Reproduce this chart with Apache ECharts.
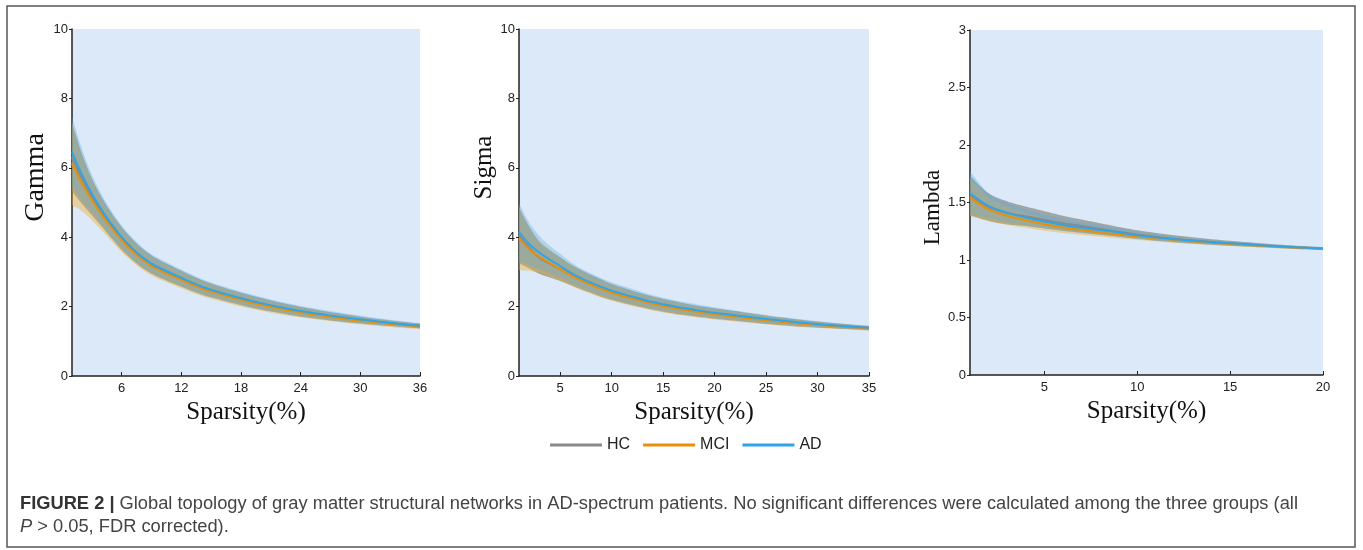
<!DOCTYPE html>
<html>
<head>
<meta charset="utf-8">
<script src="https://cdn.jsdelivr.net/npm/echarts@6/dist/echarts.min.js"></script>
<style>
html,body{margin:0;padding:0;background:#fff;}
#c{width:1363px;height:550px;}
</style>
</head>
<body>
<div id="c"></div>
<script>
// ---------- Data ----------
const groups = ['HC', 'MCI', 'AD'];

// Panel 1: Gamma
const gammaX = [1,2,3,4,5,6,7,8,9,10,12,14,16,18,20,22,24,27,30,33,36];
const gammaHC  = [6.30,5.68,5.16,4.72,4.32,3.96,3.66,3.41,3.21,3.06,2.80,2.56,2.38,2.22,2.08,1.96,1.85,1.72,1.61,1.52,1.44];
const gammaMCI = [6.13,5.55,5.07,4.64,4.26,3.91,3.62,3.37,3.17,3.02,2.77,2.53,2.35,2.19,2.05,1.93,1.83,1.70,1.59,1.50,1.42];
const gammaAD  = [6.45,5.80,5.25,4.78,4.36,4.00,3.70,3.44,3.24,3.09,2.83,2.58,2.40,2.24,2.10,1.98,1.87,1.74,1.63,1.53,1.45];
const gammaHCsd  = [0.98,0.72,0.53,0.42,0.36,0.33,0.30,0.28,0.26,0.25,0.23,0.21,0.19,0.18,0.17,0.15,0.14,0.12,0.10,0.08,0.07];
const gammaMCIsd = [1.20,0.80,0.58,0.45,0.38,0.34,0.31,0.29,0.27,0.26,0.24,0.22,0.20,0.19,0.17,0.16,0.14,0.12,0.10,0.09,0.07];
const gammaADsd  = [1.02,0.75,0.55,0.44,0.38,0.34,0.31,0.29,0.27,0.26,0.24,0.22,0.20,0.19,0.18,0.16,0.15,0.13,0.11,0.09,0.07];
const gammaXTicks = [6,12,18,24,30,36];

// Panel 2: Sigma
const sigmaX = [1,2,3,4,5,6,7,8,9,10,12,14,16,18,20,22,25,28,31,35];
const sigmaHC  = [4.05,3.70,3.40,3.23,3.08,2.92,2.78,2.65,2.53,2.42,2.25,2.10,1.98,1.88,1.80,1.73,1.62,1.53,1.46,1.38];
const sigmaMCI = [3.97,3.65,3.43,3.25,3.08,2.91,2.76,2.63,2.51,2.40,2.23,2.08,1.96,1.86,1.78,1.71,1.61,1.52,1.45,1.37];
const sigmaAD  = [4.15,3.80,3.55,3.35,3.17,2.98,2.82,2.69,2.57,2.46,2.29,2.13,2.01,1.91,1.82,1.75,1.64,1.55,1.47,1.39];
const sigmaHCsd  = [0.80,0.60,0.46,0.39,0.34,0.30,0.28,0.26,0.25,0.23,0.21,0.19,0.18,0.16,0.15,0.14,0.12,0.10,0.08,0.06];
const sigmaMCIsd = [0.92,0.62,0.46,0.39,0.34,0.30,0.28,0.26,0.25,0.23,0.21,0.19,0.18,0.16,0.15,0.14,0.12,0.10,0.08,0.06];
const sigmaADsd  = [0.83,0.62,0.48,0.40,0.35,0.31,0.28,0.27,0.25,0.24,0.22,0.20,0.18,0.17,0.16,0.14,0.12,0.10,0.08,0.06];
const sigmaXTicks = [5,10,15,20,25,30,35];

// Panel 3: Lambda
const lambdaX = [1,2,3,4,5,6,7,8,9,10,12,14,16,18,20];
const lambdaHC  = [1.56,1.46,1.41,1.38,1.35,1.32,1.295,1.27,1.245,1.222,1.185,1.157,1.135,1.115,1.099];
const lambdaMCI = [1.545,1.44,1.385,1.345,1.31,1.283,1.26,1.24,1.222,1.205,1.175,1.15,1.13,1.112,1.097];
const lambdaAD  = [1.58,1.47,1.41,1.37,1.335,1.305,1.28,1.26,1.24,1.215,1.18,1.155,1.135,1.115,1.10];
const lambdaHCsd  = [0.17,0.12,0.10,0.085,0.075,0.065,0.057,0.05,0.043,0.037,0.03,0.024,0.019,0.015,0.012];
const lambdaMCIsd = [0.165,0.10,0.08,0.065,0.055,0.048,0.042,0.037,0.033,0.03,0.025,0.02,0.016,0.013,0.01];
const lambdaADsd  = [0.19,0.11,0.085,0.07,0.06,0.052,0.046,0.04,0.036,0.032,0.026,0.02,0.016,0.013,0.01];
const lambdaXTicks = [5,10,15,20];

// ---------- Styles ----------
const lineColors = {HC:'#8a8a8a', MCI:'#e88f0c', AD:'#31a4e6'};
const bandColors = {HC:'rgba(115,118,105,0.58)', MCI:'rgba(235,175,50,0.42)', AD:'rgba(90,175,230,0.36)'};
const plotBg = '#dce9f8';
const serif = 'Liberation Serif, Times New Roman, serif';
const sans = 'Liberation Sans, Arial, sans-serif';

const panels = [
  {name:'Gamma', x:gammaX, mean:{HC:gammaHC,MCI:gammaMCI,AD:gammaAD}, sd:{HC:gammaHCsd,MCI:gammaMCIsd,AD:gammaADsd},
   xmin:1, xmax:36, xticks:gammaXTicks, ymax:10, yint:2, grid:{left:72, top:29, width:348, height:347},
   nameSize:28, nameGap:12, namePad:[0,0,0,50]},
  {name:'Sigma', x:sigmaX, mean:{HC:sigmaHC,MCI:sigmaMCI,AD:sigmaAD}, sd:{HC:sigmaHCsd,MCI:sigmaMCIsd,AD:sigmaADsd},
   xmin:1, xmax:35, xticks:sigmaXTicks, ymax:10, yint:2, grid:{left:519, top:29, width:350, height:347},
   nameSize:25, nameGap:22, namePad:[0,0,0,70]},
  {name:'Lambda', x:lambdaX, mean:{HC:lambdaHC,MCI:lambdaMCI,AD:lambdaAD}, sd:{HC:lambdaHCsd,MCI:lambdaMCIsd,AD:lambdaADsd},
   xmin:1, xmax:20, xticks:lambdaXTicks, ymax:3, yint:0.5, grid:{left:970, top:30, width:353, height:345},
   nameSize:23, nameGap:24, namePad:[0,10,0,0]}
];

// Catmull-Rom sampling in pixel space (rendering only, for smooth band edges)
function smoothPts(pts) {
  const out = [];
  const n = pts.length;
  for (let i = 0; i < n - 1; i++) {
    const p0 = pts[Math.max(0, i - 1)], p1 = pts[i], p2 = pts[i + 1], p3 = pts[Math.min(n - 1, i + 2)];
    const steps = 8;
    for (let s = 0; s < steps; s++) {
      const t = s / steps, t2 = t * t, t3 = t2 * t;
      const f = (a, b, c, d) => 0.5 * ((2 * b) + (-a + c) * t + (2 * a - 5 * b + 4 * c - d) * t2 + (-a + 3 * b - 3 * c + d) * t3);
      out.push([f(p0[0], p1[0], p2[0], p3[0]), f(p0[1], p1[1], p2[1], p3[1])]);
    }
  }
  out.push(pts[n - 1]);
  return out;
}

const grids = [], xAxes = [], yAxes = [], series = [];
const labelFont = {color:'#222', fontSize:13, fontFamily:sans};

panels.forEach((p, i) => {
  grids.push(Object.assign({show:true, backgroundColor:plotBg, borderWidth:0}, p.grid));
  xAxes.push({
    gridIndex:i, type:'value', min:p.xmin, max:p.xmax,
    name:'Sparsity(%)', nameLocation:'middle', nameGap:20,
    nameTextStyle:{fontFamily:serif, fontSize:25, color:'#111'},
    axisLine:{show:true, onZero:false, lineStyle:{color:'#222', width:1.5}},
    axisTick:{show:true, inside:true, length:4, customValues:p.xticks, lineStyle:{color:'#222'}},
    axisLabel:Object.assign({customValues:p.xticks, margin:6}, labelFont),
    splitLine:{show:false}
  });
  yAxes.push({
    gridIndex:i, type:'value', min:0, max:p.ymax, interval:p.yint,
    name:p.name, nameLocation:'middle', nameGap:p.nameGap, nameRotate:90,
    nameTextStyle:{fontFamily:serif, fontSize:p.nameSize, color:'#111', padding:p.namePad},
    axisLine:{show:true, lineStyle:{color:'#222', width:1.5}},
    axisTick:{show:true, inside:false, length:3, lineStyle:{color:'#222'}},
    axisLabel:Object.assign({margin:4}, labelFont),
    splitLine:{show:false}
  });
  // bands (mean ± sd)
  groups.forEach(g => {
    const xs = p.x, m = p.mean[g], sd = p.sd[g];
    series.push({
      type:'custom', name:g + ' band', xAxisIndex:i, yAxisIndex:i, silent:true, clip:true,
      data:xs.map((xv, k) => [xv, m[k] - sd[k], m[k] + sd[k]]),
      encode:{x:0, y:[1, 2]},
      renderItem:function (params, api) {
        if (params.dataIndex !== 0) return null;
        const up = smoothPts(xs.map((xv, k) => api.coord([xv, m[k] + sd[k]])));
        const lo = smoothPts(xs.map((xv, k) => api.coord([xv, m[k] - sd[k]]))).reverse();
        return {type:'polygon', shape:{points:up.concat(lo)}, style:{fill:bandColors[g]}};
      }
    });
  });
  // mean lines
  groups.forEach(g => {
    series.push({
      type:'line', name:g, xAxisIndex:i, yAxisIndex:i,
      data:p.x.map((xv, k) => [xv, p.mean[g][k]]),
      symbol:'none', smooth:0.35, color:lineColors[g],
      lineStyle:{color:lineColors[g], width:2}, z:3
    });
  });
});

const chart = echarts.init(document.getElementById('c'), null, {renderer:'canvas'});
chart.setOption({
  animation:false,
  backgroundColor:'#ffffff',
  grid:grids, xAxis:xAxes, yAxis:yAxes, series:series,
  legend:{
    data:groups, left:545, top:432, icon:'rect', itemWidth:52, itemHeight:3, itemGap:13,
    textStyle:{fontSize:16, color:'#222', fontFamily:sans},
    selectedMode:false
  },
  graphic:[
    {type:'rect', shape:{x:7, y:6, width:1348, height:541}, style:{fill:'none', stroke:'#555', lineWidth:1.5}, silent:true},
    {type:'text', left:20, top:495, style:{
      text:'{b|FIGURE 2 |} Global topology of gray matter structural networks in AD-spectrum patients. No significant differences were calculated among the three groups (all',
      fontSize:18.3, fontFamily:sans, fill:'#444',
      rich:{b:{fontWeight:'bold', fontSize:18.3, fontFamily:sans, fill:'#333'}}
    }},
    {type:'text', left:20, top:518, style:{
      text:'{i|P} > 0.05, FDR corrected).',
      fontSize:18.3, fontFamily:sans, fill:'#444',
      rich:{i:{fontStyle:'italic', fontSize:18.3, fontFamily:sans, fill:'#444'}}
    }}
  ]
});
</script>
</body>
</html>
